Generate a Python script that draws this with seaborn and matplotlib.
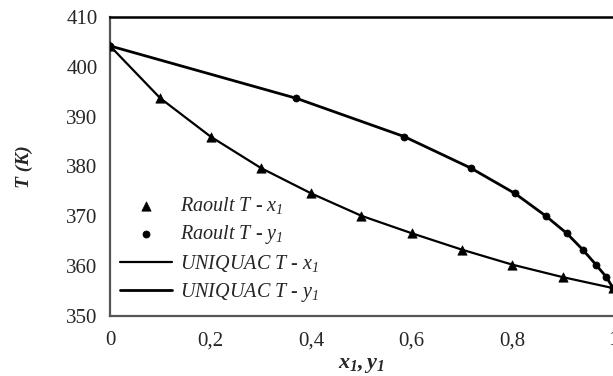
import numpy as np
import pandas as pd
import matplotlib
matplotlib.use("Agg")
import matplotlib.pyplot as plt
import seaborn as sns

# liquid composition (x1) and vapour composition (y1) vs boiling temperature
x1 = [0.0, 0.1, 0.2, 0.3, 0.4, 0.5, 0.6, 0.7, 0.8, 0.9, 1.0]
y1 = [0.0, 0.370, 0.585, 0.717, 0.805, 0.866, 0.908, 0.940, 0.966, 0.987, 1.0]
T = [404.2, 393.7, 386.0, 379.7, 374.6, 370.1, 366.6, 363.3, 360.3, 357.8, 355.6]

xticks = [0, 0.2, 0.4, 0.6, 0.8, 1.0]
xticklabels = ["0", "0,2", "0,4", "0,6", "0,8", "1"]
yticks = [350, 360, 370, 380, 390, 400, 410]

df = pd.DataFrame({"x1": x1, "y1": y1, "T": T})

sns.set_style("white")
plt.rcParams['font.family'] = ['Liberation Serif', 'DejaVu Serif']
plt.rcParams['mathtext.fontset'] = 'custom'
plt.rcParams['mathtext.rm'] = 'Liberation Serif:italic'
plt.rcParams['mathtext.it'] = 'Liberation Serif:italic'
plt.rcParams['mathtext.bf'] = 'Liberation Serif:bold:italic'

fig = plt.figure(figsize=(6.13, 3.76), dpi=100)
ax = fig.add_axes([0.1794, 0.1596, 0.8206, 0.7952])

sns.scatterplot(data=df, x="x1", y="T", marker="^", s=45, color="black",
                edgecolor="black", linewidth=0.5, ax=ax, label="Raoult T - $x_1$", zorder=3)
sns.scatterplot(data=df, x="y1", y="T", marker="o", s=26, color="black",
                edgecolor="black", linewidth=0.5, ax=ax, label="Raoult T - $y_1$", zorder=3)
sns.lineplot(data=df, x="x1", y="T", color="black", lw=1.6, ax=ax,
             label="UNIQUAC T - $x_1$", sort=False)
sns.lineplot(data=df, x="y1", y="T", color="black", lw=2.0, ax=ax,
             label="UNIQUAC T - $y_1$", sort=False)

ax.set_xlim(0, 1)
ax.set_ylim(350, 410)
ax.set_xticks(xticks)
ax.set_xticklabels(xticklabels)
ax.set_yticks(yticks)
ax.tick_params(direction="in", length=5, width=0.8, color="#606060",
               labelsize=15, pad=9)
ax.tick_params(axis="x", pad=11)

for side in ["left", "bottom"]:
    ax.spines[side].set_color("#555555")
    ax.spines[side].set_linewidth(1.6)
ax.spines["top"].set_color("black")
ax.spines["top"].set_linewidth(1.8)
ax.spines["right"].set_visible(False)

ax.set_xlabel(r"$\mathbf{x_1,y_1}$", fontsize=16, labelpad=4)
ax.set_ylabel("T (K)", fontsize=14, fontweight="bold", fontstyle="italic", labelpad=24)

leg = ax.legend(loc="lower left", bbox_to_anchor=(0.02, 0.04), frameon=False,
                fontsize=14.5, handlelength=2.6, handletextpad=0.4,
                labelspacing=0.35, borderpad=0, borderaxespad=0, markerscale=1.0)
for t in leg.get_texts():
    t.set_fontstyle("italic")

fig.savefig("out.png", dpi=100)
